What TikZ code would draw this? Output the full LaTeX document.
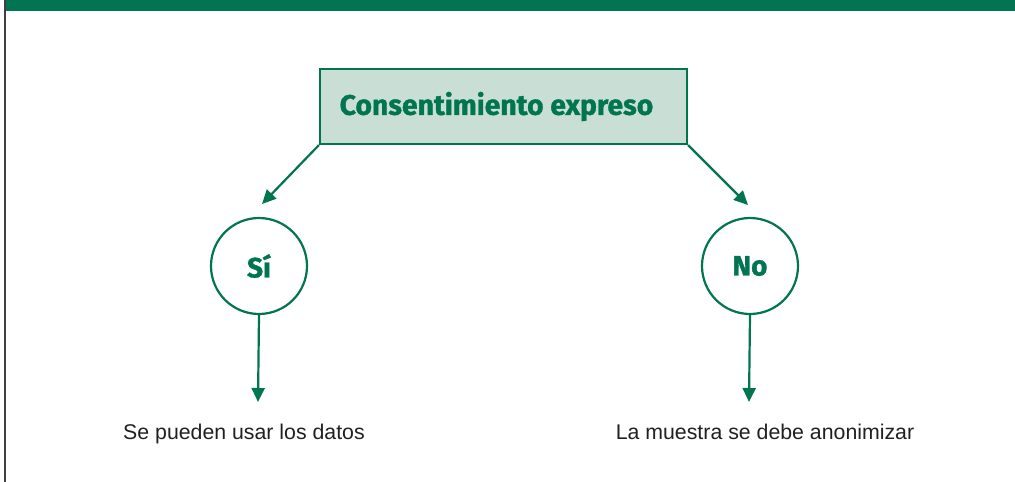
\documentclass[tikz,border=0pt]{standalone}
\usepackage{fontspec}
\setmainfont{Liberation Sans}
\newfontfamily\headfont{Fira Sans}[BoldFeatures={FakeBold=1.2}]
\usetikzlibrary{arrows.meta}
\definecolor{verde}{HTML}{00754F}
\definecolor{verdeclaro}{HTML}{C9DFD6}
\definecolor{texto}{HTML}{231F20}
\tikzset{
  flecha/.style={-{Triangle[length=14pt,width=13pt]},verde,line width=2.2pt},
  opcion/.style={circle,draw=verde,fill=white,line width=2.2pt,minimum size=96pt,inner sep=0pt,text=verde,font=\headfont\bfseries\fontsize{28}{32}\selectfont},
  resultado/.style={anchor=base,text=texto,font=\fontsize{21.3}{25}\selectfont}
}
\begin{document}
\begin{tikzpicture}[x=1pt,y=-1pt]
                      \useasboundingbox(0,0)rectangle(1015,482);
                      \fill[verde](6,0)rectangle(1015,11);
                      \draw[black!75,line width=2pt](5,0)--(5,482);
                      \node[draw=verde,fill=verdeclaro,line width=2.2pt,minimum width=367pt,minimum height=75pt,inner sep=0pt,text=verde,font=\headfont\bfseries\fontsize{28.3}{32}\selectfont](cons)at(503.5,106.5){Consentimiento expreso\hspace*{14pt}};
                      \node[opcion](si)at(259,266){Sí};
                      \node[opcion](no)at(750,266){No};
                      \coordinate(siTip)at(262,204);
                      \coordinate(noTip)at(748,205);
                      \coordinate(siFin)at(258,402);
                      \coordinate(noFin)at(749,402);
                      \draw[flecha](cons.south west)--(siTip);
                      \draw[flecha](cons.south east)--(noTip);
                      \draw[flecha](si.south)--(siFin);
                      \draw[flecha](no.south)--(noFin);
                      \node[resultado](siRes)at(244,439){Se pueden usar los datos};
                      \node[resultado](noRes)at(765,439){La muestra se debe anonimizar};
                  \end{tikzpicture}
\end{document}
